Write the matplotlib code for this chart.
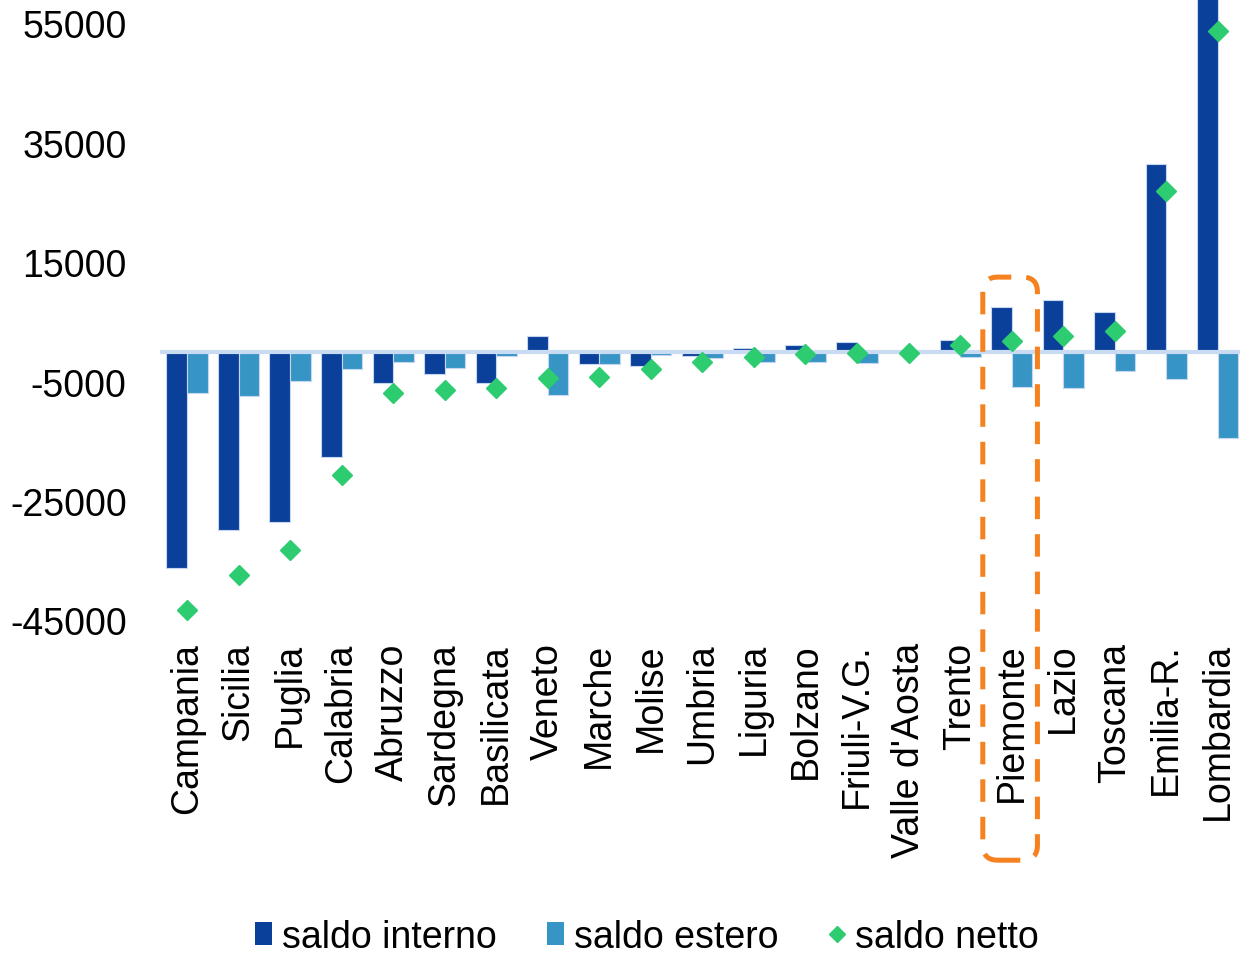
import matplotlib
matplotlib.use("Agg")
import matplotlib.pyplot as plt
import numpy as np
from matplotlib.lines import Line2D
from matplotlib.patches import FancyBboxPatch, Patch
from matplotlib.transforms import IdentityTransform

plt.rcParams["font.family"] = ["Liberation Sans", "DejaVu Sans"]

regions = [
    "Campania", "Sicilia", "Puglia", "Calabria", "Abruzzo", "Sardegna",
    "Basilicata", "Veneto", "Marche", "Molise", "Umbria", "Liguria",
    "Bolzano", "Friuli-V.G.", "Valle d'Aosta", "Trento", "Piemonte",
    "Lazio", "Toscana", "Emilia-R.", "Lombardia",
]
saldo_interno = [
    -36200, -29900, -28450, -17600, -5200, -3700, -5300, 2700, -2040, -2350,
    -700, 700, 1200, 1550, -50, 1880, 7500, 8620, 6670, 31400, 68200,
]
saldo_estero = [
    -7000, -7400, -4900, -2880, -1750, -2700, -700, -7200, -2040, -550,
    -1040, -1750, -1750, -1870, -150, -870, -5900, -6050, -3200, -4550, -14400,
]
saldo_netto = [
    -43350, -37350, -33250, -20600, -6850, -6400, -6050, -4400, -4200, -2950,
    -1750, -900, -400, -250, -200, 1150, 1750, 2600, 3450, 26900, 53800,
]
highlight = "Piemonte"
yticks = [-45000, -25000, -5000, 15000, 35000, 55000]

c_int = "#0B409A"
c_est = "#3795C6"
c_net = "#2ECC71"
c_box = "#F5821F"

fig = plt.figure(figsize=(12.4, 9.54), dpi=100)
ax = fig.add_axes([0.129, 0.3375, 0.871, 0.6625])

x = np.arange(len(regions))
w = 0.4
ax.bar(x - w / 2, saldo_interno, width=w, color=c_int, edgecolor="#C5D6EE",
       linewidth=0.8, zorder=2)
ax.bar(x + w / 2, saldo_estero, width=w, color=c_est, edgecolor="#C5D6EE",
       linewidth=0.8, zorder=2)
ax.axhline(0, color="#C9DBF3", linewidth=3, zorder=3)
ax.plot(x, saldo_netto, linestyle="none", marker="D", markersize=10,
        color=c_net, zorder=4)

ax.set_xlim(-0.524, len(regions) - 1 + 0.43)
ax.set_ylim(-46800, 59100)
ax.set_yticks(yticks)
ax.set_yticklabels([str(v) for v in yticks], fontsize=27)
ax.set_xticks(x)
ax.set_xticklabels(regions, rotation=90, fontsize=27)
ax.tick_params(axis="y", length=0, pad=24)
ax.tick_params(axis="x", length=0, pad=8)
for s in ax.spines.values():
    s.set_visible(False)

# dashed rounded box around the highlighted region
i = regions.index(highlight)
(x0, y0) = ax.transData.transform((i - 0.56, -85200))
(x1, y1) = ax.transData.transform((i + 0.5, 12500))
box = FancyBboxPatch((x0, y0), x1 - x0, y1 - y0,
                     boxstyle="round,pad=0,rounding_size=15",
                     transform=IdentityTransform(), fill=False,
                     edgecolor=c_box, linewidth=3.6,
                     linestyle=(0, (4.5, 3)), zorder=5)
fig.add_artist(box)

handles = [
    Patch(facecolor=c_int, edgecolor="none"),
    Patch(facecolor=c_est, edgecolor="none"),
    Line2D([], [], linestyle="none", marker="D", markersize=8, color=c_net),
]
fig.legend(handles, ["saldo interno", "saldo estero", "saldo netto"],
           loc="center", bbox_to_anchor=(0.522, 0.017), ncol=3, frameon=False,
           fontsize=27, handlelength=0.43, handleheight=0.6,
           handletextpad=0.27, columnspacing=1.36)

fig.savefig("out.png", dpi=100)
